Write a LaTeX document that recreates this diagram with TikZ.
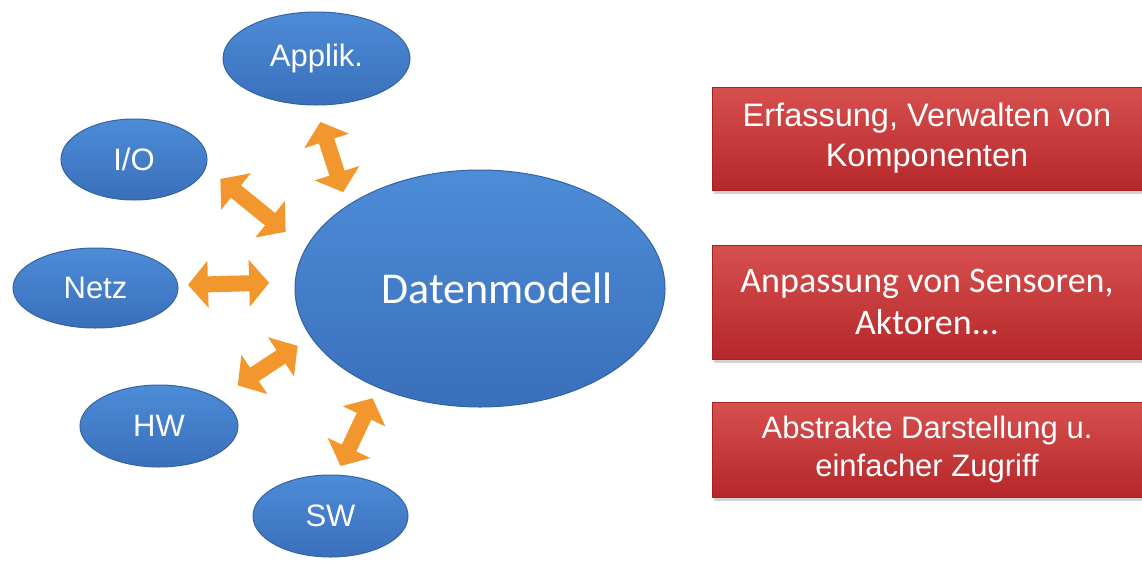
\documentclass[tikz,border=0pt]{standalone}
\usepackage{fontspec}
\setmainfont{Liberation Sans}
\newfontfamily\arialf{Liberation Sans}
\newfontfamily\calf{Carlito}
\usetikzlibrary{shapes.geometric,arrows.meta,shadows}

\definecolor{bluetop}{HTML}{4D8CD8}
\definecolor{bluebot}{HTML}{3A6FBA}
\definecolor{blueedge}{HTML}{3463A3}
\definecolor{redtop}{HTML}{D6504E}
\definecolor{redbot}{HTML}{B6272A}
\definecolor{rededge}{HTML}{A52224}
\definecolor{orangefat}{HTML}{F2962E}

\tikzset{
  blob/.style={ellipse, draw=blueedge, line width=1pt, top color=bluetop,
    bottom color=bluebot, inner sep=0pt, outer sep=0pt, text=white},
  small/.style={font=\arialf\fontsize{31}{36}\selectfont},
  redbox/.style={rectangle, draw=rededge, line width=0.6pt, top color=redtop,
    bottom color=redbot, minimum width=430pt, inner sep=0pt, text=white,
    align=center,
    drop shadow={shadow xshift=2pt, shadow yshift=-4pt, opacity=0.35}},
  fat/.style={line width=16pt, draw=orangefat,
    {Triangle[width=46pt,length=20pt]}-{Triangle[width=46pt,length=20pt]}}
}

\begin{document}
\begin{tikzpicture}[x=1pt,y=-1pt]
  \useasboundingbox (0,0) rectangle (1142,560);
  \fill[white] (0,0) rectangle (1142,560);

  % central model and surrounding parts
  \node[blob, minimum width=370pt, minimum height=237pt,
        label={[text=white, xshift=17pt, font=\calf\fontsize{44}{50}\selectfont]center:Datenmodell}]
        (dm) at (480,288.5) {};
  \node[blob, small, minimum width=187pt, minimum height=93pt] (app) at (316.5,58.5) {Applik.};
  \node[blob, small, minimum width=146pt, minimum height=81pt] (io) at (134,159.5) {I/O};
  \node[blob, small, minimum width=165pt, minimum height=80pt] (netz) at (95.5,288) {Netz};
  \node[blob, small, minimum width=158pt, minimum height=82pt] (hw) at (159,426) {HW};
  \node[blob, small, minimum width=155pt, minimum height=82pt] (sw) at (330.5,516) {SW};

  % two-way links
  \draw[fat, shorten <=17.8pt, shorten >=14.3pt] (app.-92.2) -- (dm.148.6);
  \draw[fat, shorten <=18.9pt, shorten >=26.2pt] (io.-6.9) -- (dm.167.4);
  \draw[fat, shorten <=10.2pt, shorten >=26.1pt] (netz.2.1) -- (dm.178.9);
  \draw[fat, shorten <=23.9pt, shorten >=16.2pt] (hw.25.5) -- (dm.-164.35);
  \draw[fat, shorten <=10pt, shorten >=12.1pt] (sw.82.8) -- (dm.-136.2);

  % tasks of the data model
  \node[redbox, minimum height=103pt, font=\arialf\fontsize{32.5}{40}\selectfont]
    (t1) at (927,138.5) {Erfassung, Verwalten von\\Komponenten};
  \node[redbox, minimum height=114pt, font=\calf\fontsize{36}{42}\selectfont]
    (t2) at (927,302) {Anpassung von Sensoren,\\Aktoren...};
  \node[redbox, minimum height=95pt, font=\arialf\fontsize{31}{38}\selectfont]
    (t3) at (927,449.5) {Abstrakte Darstellung u.\\einfacher Zugriff};
\end{tikzpicture}
\end{document}
